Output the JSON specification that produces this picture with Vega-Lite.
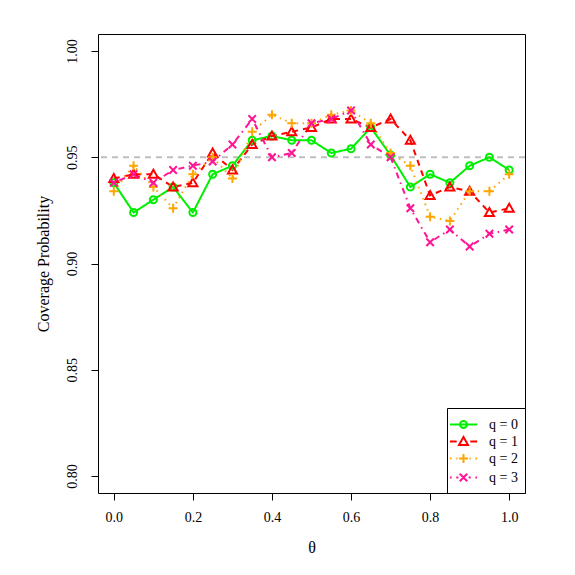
{
  "$schema": "https://vega.github.io/schema/vega-lite/v6.json",
  "width": 427,
  "height": 459,
  "autosize": "none",
  "padding": {"left": 98, "top": 34, "right": 50, "bottom": 82},
  "background": "white",
  "config": {
    "view": {"stroke": "black", "strokeWidth": 1},
    "font": "Liberation Serif",
    "axis": {
      "domain": false,
      "grid": false,
      "tickColor": "black",
      "tickSize": 7,
      "tickWidth": 1,
      "labelFont": "Liberation Serif",
      "labelFontSize": 14,
      "labelColor": "black",
      "titleFont": "Liberation Serif",
      "titleFontSize": 16,
      "titleFontWeight": "normal",
      "titleColor": "black"
    },
    "legend": {
      "orient": "bottom-right",
      "offset": 0,
      "padding": 7,
      "strokeColor": "black",
      "fillColor": "white",
      "cornerRadius": 0,
      "symbolSize": 289,
      "symbolStrokeWidth": 2,
      "labelFont": "Liberation Serif",
      "labelFontSize": 14,
      "labelColor": "black",
      "labelOffset": 16,
      "rowPadding": 0
    }
  },
  "resolve": {"scale": {"shape": "independent", "color": "independent"}},
  "data": {
    "values": [
      {"t": 0.00, "q": 0, "cp": 0.938}, {"t": 0.05, "q": 0, "cp": 0.924}, {"t": 0.10, "q": 0, "cp": 0.930}, {"t": 0.15, "q": 0, "cp": 0.936}, {"t": 0.20, "q": 0, "cp": 0.924}, {"t": 0.25, "q": 0, "cp": 0.942}, {"t": 0.30, "q": 0, "cp": 0.946}, {"t": 0.35, "q": 0, "cp": 0.958}, {"t": 0.40, "q": 0, "cp": 0.960}, {"t": 0.45, "q": 0, "cp": 0.958}, {"t": 0.50, "q": 0, "cp": 0.958}, {"t": 0.55, "q": 0, "cp": 0.952}, {"t": 0.60, "q": 0, "cp": 0.954}, {"t": 0.65, "q": 0, "cp": 0.964}, {"t": 0.70, "q": 0, "cp": 0.951}, {"t": 0.75, "q": 0, "cp": 0.936}, {"t": 0.80, "q": 0, "cp": 0.942}, {"t": 0.85, "q": 0, "cp": 0.938}, {"t": 0.90, "q": 0, "cp": 0.946}, {"t": 0.95, "q": 0, "cp": 0.950}, {"t": 1.00, "q": 0, "cp": 0.944},
      {"t": 0.00, "q": 1, "cp": 0.940}, {"t": 0.05, "q": 1, "cp": 0.942}, {"t": 0.10, "q": 1, "cp": 0.942}, {"t": 0.15, "q": 1, "cp": 0.936}, {"t": 0.20, "q": 1, "cp": 0.938}, {"t": 0.25, "q": 1, "cp": 0.952}, {"t": 0.30, "q": 1, "cp": 0.944}, {"t": 0.35, "q": 1, "cp": 0.956}, {"t": 0.40, "q": 1, "cp": 0.960}, {"t": 0.45, "q": 1, "cp": 0.962}, {"t": 0.50, "q": 1, "cp": 0.964}, {"t": 0.55, "q": 1, "cp": 0.968}, {"t": 0.60, "q": 1, "cp": 0.968}, {"t": 0.65, "q": 1, "cp": 0.964}, {"t": 0.70, "q": 1, "cp": 0.968}, {"t": 0.75, "q": 1, "cp": 0.958}, {"t": 0.80, "q": 1, "cp": 0.932}, {"t": 0.85, "q": 1, "cp": 0.936}, {"t": 0.90, "q": 1, "cp": 0.934}, {"t": 0.95, "q": 1, "cp": 0.924}, {"t": 1.00, "q": 1, "cp": 0.926},
      {"t": 0.00, "q": 2, "cp": 0.934}, {"t": 0.05, "q": 2, "cp": 0.946}, {"t": 0.10, "q": 2, "cp": 0.936}, {"t": 0.15, "q": 2, "cp": 0.926}, {"t": 0.20, "q": 2, "cp": 0.942}, {"t": 0.25, "q": 2, "cp": 0.950}, {"t": 0.30, "q": 2, "cp": 0.940}, {"t": 0.35, "q": 2, "cp": 0.962}, {"t": 0.40, "q": 2, "cp": 0.970}, {"t": 0.45, "q": 2, "cp": 0.966}, {"t": 0.50, "q": 2, "cp": 0.966}, {"t": 0.55, "q": 2, "cp": 0.970}, {"t": 0.60, "q": 2, "cp": 0.972}, {"t": 0.65, "q": 2, "cp": 0.966}, {"t": 0.70, "q": 2, "cp": 0.952}, {"t": 0.75, "q": 2, "cp": 0.946}, {"t": 0.80, "q": 2, "cp": 0.922}, {"t": 0.85, "q": 2, "cp": 0.920}, {"t": 0.90, "q": 2, "cp": 0.934}, {"t": 0.95, "q": 2, "cp": 0.934}, {"t": 1.00, "q": 2, "cp": 0.942},
      {"t": 0.00, "q": 3, "cp": 0.938}, {"t": 0.05, "q": 3, "cp": 0.942}, {"t": 0.10, "q": 3, "cp": 0.938}, {"t": 0.15, "q": 3, "cp": 0.944}, {"t": 0.20, "q": 3, "cp": 0.946}, {"t": 0.25, "q": 3, "cp": 0.948}, {"t": 0.30, "q": 3, "cp": 0.956}, {"t": 0.35, "q": 3, "cp": 0.968}, {"t": 0.40, "q": 3, "cp": 0.950}, {"t": 0.45, "q": 3, "cp": 0.952}, {"t": 0.50, "q": 3, "cp": 0.966}, {"t": 0.55, "q": 3, "cp": 0.968}, {"t": 0.60, "q": 3, "cp": 0.972}, {"t": 0.65, "q": 3, "cp": 0.956}, {"t": 0.70, "q": 3, "cp": 0.950}, {"t": 0.75, "q": 3, "cp": 0.926}, {"t": 0.80, "q": 3, "cp": 0.910}, {"t": 0.85, "q": 3, "cp": 0.916}, {"t": 0.90, "q": 3, "cp": 0.908}, {"t": 0.95, "q": 3, "cp": 0.914}, {"t": 1.00, "q": 3, "cp": 0.916}
    ]
  },
  "layer": [
    {
      "data": {"values": [{"ref": 0.95}]},
      "mark": {"type": "rule", "color": "#BEBEBE", "strokeWidth": 2, "strokeDash": [6, 5]},
      "encoding": {
        "y": {"field": "ref", "type": "quantitative", "scale": {"domain": [0.792, 1.008], "nice": false, "zero": false}, "title": "Coverage Probability"}
      }
    },
    {
      "mark": {"type": "line", "strokeWidth": 2},
      "encoding": {
        "x": {"field": "t", "type": "quantitative", "scale": {"domain": [-0.04, 1.04], "nice": false, "zero": false},
              "axis": {"values": [0, 0.2, 0.4, 0.6, 0.8, 1.0], "format": ".1f", "labelPadding": 10, "titlePadding": 15}, "title": "θ"},
        "y": {"field": "cp", "type": "quantitative", "scale": {"domain": [0.792, 1.008], "nice": false, "zero": false},
              "axis": {"values": [0.8, 0.85, 0.9, 0.95, 1.0], "format": ".2f", "labelAngle": 270, "labelAlign": "center", "labelBaseline": "bottom", "labelPadding": 12, "titlePadding": 14}, "title": "Coverage Probability"},
        "color": {
          "field": "q", "type": "nominal",
          "scale": {"domain": [0, 1, 2, 3], "range": ["#00EE00", "#FF0000", "#FFA500", "#FF1493"]},
          "legend": null
        },
        "strokeDash": {
          "field": "q", "type": "nominal",
          "scale": {"domain": [0, 1, 2, 3], "range": [[1, 0], [6, 5], [1.5, 4.5], [1.5, 4.5, 6, 4.5]]},
          "legend": null
        }
      }
    },
    {
      "mark": {"type": "point", "filled": false, "strokeWidth": 2, "size": 81, "opacity": 1},
      "encoding": {
        "x": {"field": "t", "type": "quantitative", "title": "θ"},
        "y": {"field": "cp", "type": "quantitative", "title": "Coverage Probability"},
        "color": {
          "field": "q", "type": "nominal",
          "scale": {"domain": [0, 1, 2, 3], "range": ["#00EE00", "#FF0000", "#FFA500", "#FF1493"]},
          "legend": null
        },
        "shape": {
          "field": "q", "type": "nominal",
          "scale": {"domain": [0, 1, 2, 3], "range": [
            "M0.78,0A0.78,0.78,0,1,1,-0.78,0A0.78,0.78,0,1,1,0.78,0Z",
            "M0,-1L1,0.75L-1,0.75Z",
            "M-1,0L1,0M0,-1L0,1",
            "M-0.83,-0.83L0.83,0.83M-0.83,0.83L0.83,-0.83"
          ]},
          "legend": null
        }
      }
    },
    {
      "transform": [{"filter": "false"}],
      "mark": {"type": "point", "filled": false, "strokeWidth": 2, "size": 289, "opacity": 1},
      "encoding": {
        "x": {"field": "t", "type": "quantitative", "title": "θ"},
        "y": {"field": "cp", "type": "quantitative", "title": "Coverage Probability"},
        "color": {
          "field": "q", "type": "nominal",
          "scale": {"domain": [0, 1, 2, 3], "range": ["#00EE00", "#FF0000", "#FFA500", "#FF1493"]},
          "legend": {"title": null, "labelExpr": "'q = ' + datum.label"}
        },
        "shape": {
          "field": "q", "type": "nominal",
          "scale": {"domain": [0, 1, 2, 3], "range": [
            "M-1.6,0L1.6,0M0.41,0A0.41,0.41,0,1,1,-0.41,0A0.41,0.41,0,1,1,0.41,0",
            "M-1.6,0L-0.8,0M0.8,0L1.6,0M0,-0.53L0.53,0.4L-0.53,0.4Z",
            "M-1.6,0L-1.4,0M1.4,0L1.6,0M-0.85,0L-0.7,0M0.7,0L0.85,0M-0.53,0L0.53,0M0,-0.53L0,0.53",
            "M-1.6,0L-1.4,0M1.4,0L1.6,0M-0.85,0L-0.6,0M0.6,0L0.85,0M-0.44,-0.44L0.44,0.44M-0.44,0.44L0.44,-0.44"
          ]},
          "legend": {"title": null, "labelExpr": "'q = ' + datum.label"}
        }
      }
    }
  ]
}
